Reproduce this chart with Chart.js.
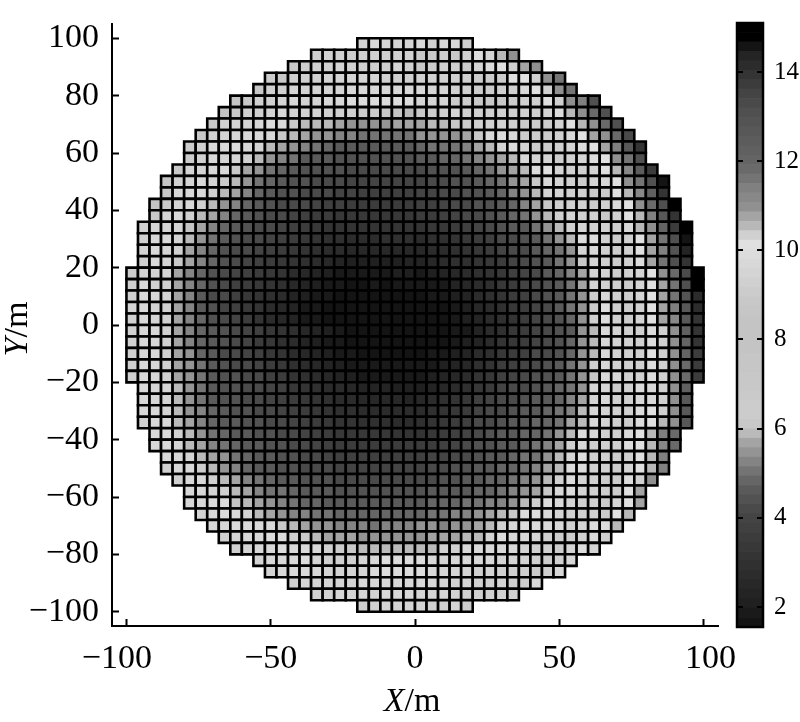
<!DOCTYPE html>
<html>
<head>
<meta charset="utf-8">
<style>
html,body{margin:0;padding:0;background:#fff}
#wrap{position:relative;width:800px;height:722px;overflow:hidden}
canvas{position:absolute;top:0}
#main{left:0}
#bar{left:725px}
</style>
<script src="https://cdn.jsdelivr.net/npm/chart.js@4"></script>
</head>
<body>
<div id="wrap"><canvas id="main" width="800" height="722"></canvas><canvas id="bar" width="75" height="722"></canvas></div>
<script>
const xTicks = [-100,-50,0,50,100];
const yTicks = [-100,-80,-60,-40,-20,0,20,40,60,80,100];
const barTicks = [2,4,6,8,10,12,14];
const colorMin = 1.55, colorMax = 15.1;
const levelGreys = [0x14,0x1a,0x20,0x24,0x28,0x2c,0x30,0x34,0x38,0x3c,0x40,0x44,0x4a,0x52,0x5a,0x66,0x74,0x84,0x94,0xa4,0xba,0xc8,0xcc,0xcc,0xca,0xc8,0xc8,0xc6,0xc6,0xc4,0xc4,0xc4,0xc4,0xc6,0xc8,0xcc,0xd0,0xd4,0xd8,0xdc,0xe0,0xd0,0xb8,0xa4,0x90,0x88,0x80,0x74,0x6a,0x64,0x60,0x5c,0x58,0x54,0x50,0x4a,0x44,0x3c,0x34,0x2c,0x24,0x14,0x00,0x00];

// Cell values, one list per row of the 4 m grid, read left to right.
const yp98=[9.5,9.7,9.5,9.5,9.5,9.7,9.3,9.7,9.7,9.3];
const yp94=[9.1,9.3,9.3,9.1,9.3,9.3,9.3,9.3,9.3,8.8,8.8,9.1,8.8,9.3,9.9,9.5,10.55,10.97];
const yp90=[8.8,9.1,9.3,9.3,9.5,9.3,9.3,9.3,9.3,9.5,9.3,8.8,9.1,9.3,9.3,9.1,9.5,9.9,10.1,10.35,10.76,10.97];
const yp86=[9.1,8.8,9.3,9.3,9.3,9.5,9.5,9.5,9.5,9.5,9.3,9.3,9.3,9.3,9.3,9.3,9.3,9.3,9.1,9.1,9.1,10.1,10.1,10.35,10.97,11.6];
const yp82=[8.8,9.3,9.3,9.5,9.5,9.5,9.5,9.5,9.7,9.7,9.7,9.7,9.7,9.7,9.7,9.5,9.5,9.3,9.3,9.1,9.1,9.3,9.3,9.7,10.1,10.4,10.97,11.6];
const yp78=[8,8.8,9.3,9.3,9.5,9.7,9.5,9.5,9.7,9.7,9.9,9.9,9.9,9.9,9.9,9.9,9.5,9.5,9.5,9.1,9.1,8.8,8.8,8.8,9.1,9.3,9.3,10.1,10.4,10.97,11.4,13.1];
const yp74=[8,8.8,9.3,9.3,9.5,9.7,9.5,9.5,9.5,9.3,9.3,9.3,9.1,9.1,8.8,8,5.9,8.8,9.1,9.3,9.5,9.3,9.3,9.3,9.3,9.3,9.3,9.3,9.5,9.9,10.55,10.97,11.8,13.1];
const yp70=[8.8,9.3,9.5,9.5,9.7,9.9,9.7,9.1,5.9,5.9,5.9,5.65,5.45,5.45,5.45,5.45,5.65,5.65,5.65,5.9,5.9,8.8,9.1,9.3,9.3,9.3,9.3,9.1,9.1,9.1,9.5,10.1,10.55,10.97,11.8,13.1];
const yp66=[8.8,9.3,9.5,9.5,9.7,9.7,9.7,8.8,5.9,5.65,5.45,5.45,5.25,5.25,5,5,5,5,5,5.45,5.45,5.45,5.45,5.65,8.8,9.7,9.9,9.7,9.1,9.1,9.1,9.3,9.7,10.1,10.76,10.97,11.8,13.3];
const yp62=[9.1,9.3,9.7,9.7,9.9,9.7,9.5,5.9,5.65,5.45,5.25,5,4.8,4.6,4.6,4.6,4.6,4.6,4.6,4.6,4.8,5,5,5,5.25,5.65,5.9,9.5,9.9,9.5,9.1,9.1,9.3,9.5,9.9,10.1,10.76,11.4,12.65,13.95];
const yp58=[9.1,9.3,9.7,9.5,9.5,9.3,5.9,5.45,5.25,5,4.6,4.6,4.6,4.4,4.4,4.4,4.4,4.4,4.4,4.4,4.6,4.6,4.8,4.8,5,5.25,5.45,5.65,5.9,9.7,9.5,9.5,9.1,9.3,9.5,9.9,10.1,10.97,11.6,13.1];
const yp54=[8.8,9.5,9.5,9.7,9.7,8.8,5.65,5.45,5,4.8,4.6,4.4,4.4,4.4,4.4,4.2,4.2,4.2,4.2,4.2,4.2,4.2,4.4,4.4,4.4,4.6,4.8,5,5.45,5.65,5.9,9.9,10.1,9.5,9.3,9.3,9.5,10.1,10.55,11.2,12.45,13.7];
const yp50=[8,9.3,9.5,9.7,9.5,9.1,5.9,5.45,5,4.8,4.6,4.4,4.4,4.2,4.2,4.2,4,4,4,4,4,4,4,4.2,4.2,4.4,4.4,4.6,4.8,5,5.45,5.65,8.8,9.7,9.5,9.3,9.1,9.5,9.7,10.1,10.97,11.6,13.1,14.6];
const yp46=[8.8,9.7,9.7,9.7,9.3,5.9,5.65,5.25,4.8,4.6,4.4,4.4,4.2,4.2,4.2,4,4,3.8,3.8,3.8,3.8,3.8,4,4,4.2,4.2,4.4,4.4,4.6,4.8,5.25,5.45,5.9,9.5,9.5,9.3,9.3,9.1,9.1,10.1,10.55,11.2,12.25,13.95];
const yp42=[8,9.1,9.5,9.7,9.3,5.9,5.45,5.25,4.8,4.6,4.4,4.2,4.2,4.2,4,3.8,3.8,3.6,3.6,3.6,3.6,3.6,3.6,3.8,3.8,4,4.2,4.2,4.4,4.4,4.6,4.8,5.25,5.65,8.8,9.3,9.3,9.3,9.1,9.3,9.7,10.1,10.97,11.8,13.1,14.9];
const yp38=[8.8,9.5,9.7,9.3,5.9,5.65,5.25,4.8,4.6,4.4,4.2,4.2,4,3.8,3.6,3.6,3.4,3.4,3.4,3.4,3.4,3.4,3.4,3.6,3.6,3.8,4,4.2,4.2,4.4,4.6,4.8,5,5.45,5.9,9.3,9.5,9.3,9.3,8.8,9.3,10.1,10.55,11.4,12.65,13.95];
const yp34=[9.3,9.5,9.5,9.5,8,5.65,5.25,4.8,4.6,4.4,4.2,4.2,4,3.8,3.6,3.4,3.1,3.1,3.1,3.1,3.1,3.1,3.1,3.1,3.1,3.4,3.4,3.6,3.8,4,4.2,4.4,4.6,4.6,5,5.45,5.9,9.3,9.5,9.3,9.3,9.3,9.7,10.55,10.97,12,13.7,14.9];
const yp30=[9.3,9.7,9.7,9.5,5.9,5.45,5,4.6,4.4,4.2,4.2,4,3.8,3.6,3.4,3.1,2.9,2.9,2.7,2.7,2.7,2.9,2.9,2.9,2.7,2.9,2.9,3.1,3.4,3.6,3.8,4.2,4.2,4.4,4.6,5,5.45,5.9,9.9,9.9,9.3,9.1,9.3,10.1,10.76,11.6,13.1,14.6];
const yp26=[9.5,9.7,9.5,9.3,5.65,5.25,4.8,4.4,4.2,4.2,4,3.8,3.6,3.4,3.1,2.9,2.7,2.7,2.5,2.5,2.5,2.5,2.5,2.5,2.5,2.7,2.7,2.9,3.1,3.4,3.6,4,4.2,4.2,4.6,4.8,5,5.45,9.5,9.7,9.3,9.1,9.3,10.1,10.76,11.4,12.9,14.35];
const yp22=[9.3,9.7,9.5,8.8,5.65,5.25,4.8,4.4,4.2,4,3.8,3.6,3.4,3.1,2.9,2.7,2.5,2.3,2.1,2.1,2.1,2.1,2.1,2.3,2.3,2.5,2.7,2.9,2.9,3.1,3.4,3.6,4,4.2,4.4,4.6,5,5.45,8.8,9.5,9.3,9.1,9.3,9.9,10.76,11.6,13.1,13.95];
const yp18=[9.1,9.5,9.5,9.5,5.65,5.25,4.8,4.4,4.2,4,3.8,3.6,3.4,3.1,2.7,2.5,2.3,2.1,1.9,1.9,1.9,1.9,1.9,2.1,2.1,1.9,2.1,2.3,2.5,2.7,2.9,3.1,3.4,3.8,4,4.2,4.6,4.8,5.25,5.65,9.5,9.5,9.1,9.3,9.5,10.1,10.97,11.8,13.3,14.9];
const yp14=[9.3,9.7,9.3,9.3,5.65,5.25,4.8,4.4,4.2,3.8,3.6,3.4,3.1,2.9,2.5,2.3,2.1,1.9,1.9,1.7,1.7,1.9,1.7,1.9,1.9,1.9,1.9,1.9,2.3,2.5,2.7,2.9,3.4,3.6,4,4.2,4.4,4.6,5,5.65,9.5,9.3,9.3,9.1,9.5,10.1,10.76,11.6,13.1,14.9];
const yp10=[9.3,9.7,9.7,9.5,5.65,5.25,4.6,4.2,4.2,3.8,3.4,3.1,2.9,2.7,2.3,2.1,1.9,1.9,1.7,1.7,1.7,1.7,1.7,1.7,1.7,1.7,1.9,1.9,2.1,2.3,2.7,2.9,3.1,3.6,3.8,4.2,4.4,4.6,5,5.45,9.3,9.7,9.3,9.1,9.5,10.1,10.76,11.6,12.9,14.15];
const yp06=[9.5,9.7,9.5,9.3,5.65,5.25,4.6,4.4,4,3.8,3.4,3.1,2.7,2.5,2.3,1.9,1.9,1.7,1.7,1.7,1.7,1.7,1.7,1.7,1.7,1.7,1.7,1.7,1.9,2.1,2.5,2.7,2.9,3.4,3.6,4,4.2,4.6,5,5.45,9.1,9.9,9.3,9.1,9.3,10.1,10.76,11.4,12.65,14.15];
const yp02=[9.3,9.7,9.5,9.3,5.65,5.25,4.8,4.4,4.2,4,3.6,3.1,2.7,2.5,2.3,1.9,1.9,1.7,1.7,1.7,1.7,1.7,1.7,1.7,1.7,1.7,1.7,1.7,1.9,2.1,2.3,2.7,2.9,3.1,3.6,4,4.2,4.4,4.8,5.45,9.3,9.9,9.3,9.1,9.5,10.1,10.76,11.2,12.65,13.95];
const ym02=[9.3,9.7,9.7,9.3,5.65,5.25,4.8,4.6,4.4,4.2,4,3.8,3.4,3.1,2.9,2.5,2.3,2.1,1.9,1.7,1.7,1.7,1.7,1.7,1.7,1.7,1.7,1.7,1.9,1.9,2.3,2.7,2.9,3.4,3.6,4,4.2,4.4,4.6,5.45,5.9,9.7,9.5,9.3,9.3,9.9,10.35,10.97,12.25,13.95];
const ym06=[9.3,9.7,9.7,9.3,5.65,5.25,4.8,4.6,4.4,4.2,4,3.6,3.4,2.9,2.7,2.3,2.1,1.9,1.9,1.7,1.7,1.7,1.7,1.7,1.7,1.7,1.7,1.7,1.9,2.1,2.3,2.7,3.1,3.4,3.6,4,4.2,4.4,4.8,5.45,5.9,9.7,9.5,9.3,9.3,9.9,10.35,10.97,12,13.95];
const ym10=[9.3,9.7,9.7,9.3,5.65,5.45,4.8,4.6,4.2,4.2,4,3.8,3.4,3.1,2.7,2.5,2.3,2.1,1.9,1.9,1.7,1.7,1.7,1.7,1.7,1.7,1.9,1.9,2.1,2.3,2.7,2.9,3.4,3.6,3.8,4.2,4.2,4.4,4.8,5.45,5.9,9.7,9.5,9.3,9.3,10.1,10.35,10.97,12,13.7];
const ym14=[9.3,9.7,9.7,9.3,5.65,5.45,5,4.6,4.4,4.2,4.2,4,3.6,3.4,2.9,2.7,2.5,2.3,2.1,1.9,1.9,1.9,1.9,1.9,1.9,1.9,1.9,2.1,2.3,2.5,2.9,3.1,3.6,3.8,4,4.2,4.4,4.6,5,5.45,9.3,9.7,9.5,9.3,9.3,9.9,10.35,10.97,11.8,13.7];
const ym18=[9.3,9.7,9.7,9.3,5.65,5.45,5,4.6,4.4,4.4,4.2,4.2,3.8,3.6,3.1,2.9,2.7,2.5,2.3,2.1,1.9,1.9,1.9,1.9,1.9,1.9,2.1,2.3,2.5,2.7,3.1,3.4,3.8,4,4.2,4.4,4.4,4.6,5,5.45,8.8,9.7,9.7,9.3,9.3,9.9,10.35,10.97,11.8,13.7];
const ym22=[9.7,9.7,9.5,5.9,5.45,5,4.6,4.4,4.4,4.2,4.2,4,3.8,3.4,3.1,2.9,2.7,2.7,2.5,2.3,2.3,2.3,2.1,2.1,2.1,2.3,2.5,2.7,2.9,3.4,3.6,4,4.2,4.2,4.4,4.6,4.8,5,5.45,9.5,9.5,9.1,9.3,9.9,9.7,10.35,10.97,12.25];
const ym26=[9.7,9.7,9.5,5.9,5.45,5,4.6,4.4,4.4,4.2,4.2,4,3.8,3.6,3.4,3.1,2.9,2.7,2.7,2.5,2.5,2.5,2.5,2.3,2.5,2.7,2.9,3.1,3.4,3.8,4,4.2,4.2,4.4,4.6,4.6,4.8,5.25,5.65,9.5,9.7,9.3,9.3,9.7,9.7,10.35,10.97,12.65];
const ym30=[9.7,9.7,9.5,5.9,5.45,5.25,4.8,4.6,4.4,4.4,4.2,4.2,4,3.8,3.6,3.4,3.1,2.9,2.9,2.7,2.7,2.7,2.7,2.7,2.7,2.9,3.1,3.4,3.6,4,4.2,4.2,4.4,4.6,4.6,4.8,5,5.25,5.9,9.7,9.5,9.3,9.3,9.9,10.1,10.35,10.97,12.65];
const ym34=[9.3,9.7,9.7,5.9,5.65,5.25,4.8,4.6,4.6,4.4,4.4,4.2,4.2,4,3.8,3.6,3.4,3.1,3.1,2.9,2.9,2.9,2.7,2.7,2.9,3.1,3.4,3.6,3.8,4.2,4.2,4.4,4.6,4.6,4.8,4.8,5,5.65,5.9,9.7,9.5,9.3,9.1,9.9,10.1,10.55,10.97,12.65];
const ym38=[9.7,9.7,9.3,5.9,5.45,5,4.8,4.6,4.6,4.4,4.4,4.2,4.2,4,3.8,3.6,3.4,3.4,3.4,3.4,3.4,3.1,3.1,3.1,3.4,3.6,3.8,4,4.2,4.4,4.6,4.6,4.8,4.8,5,5.45,5.9,9.9,9.7,9.3,9.3,9.7,10.1,10.55,11.4,11.8];
const ym42=[9.7,9.7,9.5,5.9,5.65,5.25,5,4.8,4.6,4.6,4.4,4.4,4.2,4.2,4,3.8,3.6,3.6,3.6,3.6,3.6,3.6,3.6,3.6,3.6,3.8,4,4.2,4.4,4.4,4.6,4.6,4.8,5,5.25,5.65,9.3,9.7,9.3,9.3,9.3,9.9,10.1,10.55,11.2,11.8];
const ym46=[9.7,9.7,9.5,5.9,5.65,5.45,5,4.8,4.6,4.6,4.4,4.4,4.2,4.2,4,3.8,3.8,3.8,3.8,3.8,3.8,3.8,3.8,4,4,4.2,4.2,4.4,4.6,4.6,4.8,5,5,5.45,5.9,9.5,9.9,9.3,9.3,9.1,9.3,10.1,10.55,11.4];
const ym50=[9.3,9.7,9.7,9.1,5.9,5.45,5.25,4.8,4.6,4.6,4.4,4.4,4.2,4.2,4.2,4,4,4,4,4,4,4,4,4.2,4.2,4.4,4.4,4.6,4.6,4.8,4.8,5,5.25,5.65,5.9,9.9,9.9,9.3,9.3,9.1,9.5,10.1,10.55,11.4];
const ym54=[9.3,9.7,9.7,9.3,5.9,5.65,5.25,5,4.8,4.6,4.6,4.4,4.4,4.4,4.2,4.2,4.2,4.2,4.2,4.2,4.2,4.2,4.2,4.4,4.4,4.6,4.6,4.8,4.8,5,5.25,5.45,5.9,9.3,9.9,9.5,9.3,9.1,9.1,9.9,10.35,10.97];
const ym58=[9.7,9.7,9.5,9.3,5.9,5.65,5.25,5,5,4.8,4.6,4.6,4.6,4.4,4.4,4.4,4.4,4.4,4.4,4.4,4.4,4.6,4.6,4.6,4.6,4.8,4.8,5,5.25,5.45,5.65,8.8,9.7,9.9,9.5,9.3,9.3,9.1,10.1,10.76];
const ym62=[9.7,9.7,9.9,9.9,8,5.9,5.65,5.45,5.25,5,4.8,4.8,4.6,4.6,4.6,4.6,4.6,4.6,4.6,4.6,4.6,4.8,4.8,4.8,5,5,5.25,5.25,5.45,5.9,9.3,9.9,9.7,9.5,9.3,9.3,9.1,9.5,10.1,10.76];
const ym66=[9.5,9.7,9.9,9.7,9.5,5.9,5.65,5.45,5.25,5.25,5,5,4.8,4.8,4.8,4.8,4.8,4.8,4.8,4.8,5,5,5.25,5.25,5.45,5.65,5.9,8.8,9.9,9.9,9.7,9.5,9.3,9.3,9.3,9.1,10.1,10.55];
const ym70=[9.7,9.7,9.9,9.7,9.7,9.7,8.8,5.9,5.65,5.45,5.45,5.25,5.25,5.25,5,5.25,5.25,5.25,5.45,5.45,5.25,5.45,5.45,5.65,5.9,9.3,9.7,9.9,9.9,9.7,9.7,9.3,9.5,9.9,9.9,10.55];
const ym74=[9.3,9.5,9.7,9.7,9.9,9.9,9.3,9.1,5.9,5.65,5.65,5.65,5.45,5.45,5.45,5.45,5.45,5.45,5.65,5.65,5.65,5.9,5.9,9.5,9.9,9.7,9.7,9.5,9.3,9.1,9.1,9.3,9.9,9.3];
const ym78=[9.3,9.5,9.7,9.7,9.9,9.7,9.7,9.7,9.3,9.1,8.8,5.9,5.9,5.9,5.9,5.9,5.9,5.9,9.3,9.3,9.7,9.7,9.7,9.7,9.7,9.5,9.3,9.3,9.1,9.5,9.9,9.5];
const ym82=[9.5,9.7,9.7,9.7,9.9,9.5,9.3,9.3,9.3,9.5,9.7,9.9,9.9,9.9,9.9,9.7,9.5,9.7,9.7,9.7,9.7,9.5,9.5,9.5,9.3,9.1,9.3,9.7];
const ym86=[9.5,9.7,9.7,9.7,9.7,9.5,9.5,9.5,9.5,9.7,9.9,9.9,9.9,9.9,9.7,9.5,9.5,9.5,9.3,9.5,9.3,9.3,9.3,9.1,9.3,9.7];
const ym90=[9.3,9.5,9.5,9.5,9.5,9.5,9.7,9.7,9.7,9.7,9.7,9.7,9.7,9.5,9.5,9.5,9.3,9.3,9.5,9.3,9.3,9.7];
const ym94=[9.3,9.3,9.5,9.5,9.5,9.5,9.7,9.7,9.7,9.5,9.5,9.5,9.5,9.3,9.3,9.3,9.3,9.3];
const ym98=[9.3,9.3,9.5,9.5,9.5,9.5,9.3,9.3,9.5,9.1];

const valueRows = [yp98,yp94,yp90,yp86,yp82,yp78,yp74,yp70,yp66,yp62,yp58,yp54,yp50,yp46,yp42,yp38,yp34,yp30,yp26,yp22,yp18,yp14,yp10,yp06,yp02,ym02,ym06,ym10,ym14,ym18,ym22,ym26,ym30,ym34,ym38,ym42,ym46,ym50,ym54,ym58,ym62,ym66,ym70,ym74,ym78,ym82,ym86,ym90,ym94,ym98];
const CELL = 4;

const levelStep = (colorMax - colorMin) / levelGreys.length;
const greyCss = g => `rgb(${g},${g},${g})`;
const levelOf = v => Math.max(0, Math.min(levelGreys.length - 1, Math.floor((v - colorMin) / levelStep)));

const cells = [];
valueRows.forEach((row, r) => {
  const y = 100 - CELL / 2 - r * CELL;
  const x0 = -(row.length - 1) * CELL / 2;
  row.forEach((v, c) => cells.push({x: x0 + c * CELL, y, v}));
});

const serif = '"Liberation Serif", "Times New Roman", serif';
const minusLabel = v => String(v).replace('-', '\u2212');

// The outermost x tick labels sit a little outside their ticks in the reference.
const nudgeEndLabels = {
  id: 'nudgeEndLabels',
  beforeDraw(chart) {
    const items = chart.scales.x.getLabelItems();
    if (items.nudged || !items.length) return;
    items[0].options.translation[0] -= 9.5;
    items[items.length - 1].options.translation[0] += 7;
    items.nudged = true;
  }
};

const axisNames = {
  id: 'axisNames',
  afterDraw(chart) {
    const ctx = chart.ctx;
    const put = (x, y, rot) => {
      ctx.save();
      ctx.translate(x, y);
      ctx.rotate(rot);
      ctx.fillStyle = '#000';
      ctx.textBaseline = 'alphabetic';
      ctx.textAlign = 'left';
      ctx.font = 'italic 34px ' + serif;
      const a = rot ? 'Y' : 'X';
      const wa = ctx.measureText(a).width;
      ctx.font = '34px ' + serif;
      const wb = ctx.measureText('/m').width;
      ctx.font = 'italic 34px ' + serif;
      ctx.fillText(a, -(wa + wb) / 2, 0);
      ctx.font = '34px ' + serif;
      ctx.fillText('/m', -(wa + wb) / 2 + wa, 0);
      ctx.restore();
    };
    put(412, 711, 0);
    put(27, 329, -Math.PI / 2);
  }
};

new Chart(document.getElementById('main'), {
  type: 'scatter',
  data: { datasets: [{
    label: 'cells',
    data: cells,
    pointStyle: 'rect',
    pointRadius: 8.15,
    pointBorderWidth: 2.6,
    pointBorderColor: '#000',
    pointBackgroundColor: ctx => greyCss(levelGreys[levelOf(ctx.raw.v)])
  }]},
  options: {
    responsive: false,
    animation: false,
    events: [],
    layout: { padding: { top: 24, right: 82, left: 0, bottom: 0 } },
    plugins: { legend: { display: false }, tooltip: { enabled: false } },
    scales: {
      x: {
        type: 'linear', min: -105, max: 105,
        afterBuildTicks: s => { s.ticks = xTicks.map(value => ({value})); },
        afterFit: s => { s.height = 96; s.paddingLeft = 0; s.paddingRight = 0; },
        grid: { drawOnChartArea: false, tickLength: -7, tickWidth: 2, tickColor: '#000' },
        border: { display: true, color: '#000', width: 2 },
        ticks: { padding: 20, maxRotation: 0, autoSkip: false, color: '#000', font: { family: serif, size: 34 }, callback: minusLabel }
      },
      y: {
        type: 'linear', min: -105, max: 105,
        afterBuildTicks: s => { s.ticks = yTicks.map(value => ({value})); },
        afterFit: s => { s.width = 112; s.paddingTop = 0; s.paddingBottom = 0; },
        grid: { drawOnChartArea: false, tickLength: -7, tickWidth: 2, tickColor: '#000' },
        border: { display: true, color: '#000', width: 2 },
        ticks: { padding: 20, autoSkip: false, color: '#000', font: { family: serif, size: 34 }, callback: minusLabel }
      }
    }
  },
  plugins: [nudgeEndLabels, axisNames]
});

const barFrame = {
  id: 'barFrame',
  afterDraw(chart) {
    const a = chart.chartArea, ctx = chart.ctx;
    ctx.save();
    ctx.strokeStyle = '#000';
    ctx.lineWidth = 2.5;
    ctx.strokeRect(a.left, a.top, a.right - a.left, a.bottom - a.top);
    ctx.restore();
  }
};

new Chart(document.getElementById('bar'), {
  type: 'bar',
  data: {
    labels: ['levels'],
    datasets: levelGreys.map((g, i) => ({
      data: [[colorMin + i * levelStep, colorMin + (i + 1) * levelStep]],
      backgroundColor: greyCss(g),
      borderWidth: 0,
      grouped: false,
      barPercentage: 1,
      categoryPercentage: 1
    }))
  },
  options: {
    responsive: false,
    animation: false,
    events: [],
    layout: { padding: { top: 23, right: 0, left: 12, bottom: 95 } },
    plugins: { legend: { display: false }, tooltip: { enabled: false } },
    scales: {
      x: { display: false },
      y: {
        position: 'right', type: 'linear', min: colorMin, max: colorMax,
        afterBuildTicks: s => { s.ticks = barTicks.map(value => ({value})); },
        afterFit: s => { s.width = 37; s.paddingTop = 0; s.paddingBottom = 0; },
        grid: { z: 1, color: '#000', lineWidth: 2, drawTicks: false },
        border: { display: false, dash: [6, 14] },
        ticks: { padding: 11, autoSkip: false, color: '#000', font: { family: serif, size: 25 } }
      }
    }
  },
  plugins: [barFrame]
});
</script>
</body>
</html>
